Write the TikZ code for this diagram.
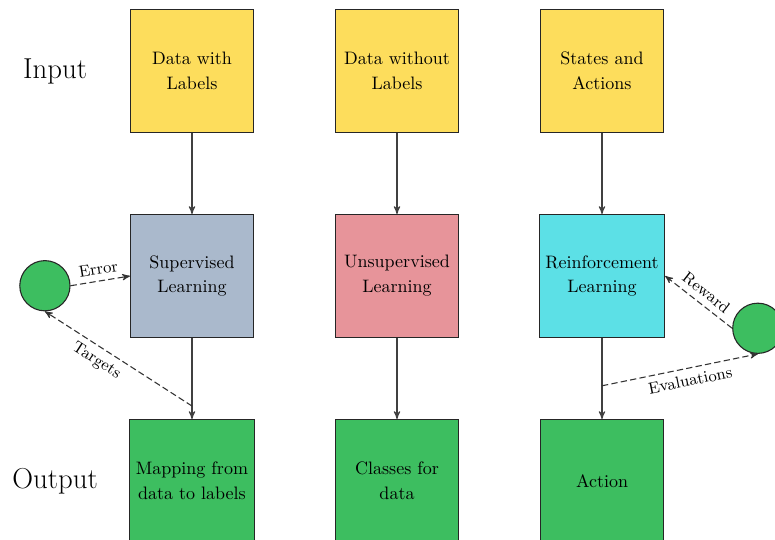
\documentclass[tikz,border=0pt]{standalone}
\usepackage{amsmath}
\usepackage{tikz}
\usetikzlibrary{arrows,calc}

\definecolor{inyellow}{RGB}{253,221,92}
\definecolor{supgray}{RGB}{170,185,204}
\definecolor{unsuppink}{RGB}{231,148,154}
\definecolor{rlcyan}{RGB}{92,224,230}
\definecolor{outgreen}{RGB}{61,190,96}

\begin{document}
\begin{tikzpicture}[>=stealth',auto,node distance=4cm,every node/.style={align=center},
    block/.style={draw=black!85,semithick,minimum size=2.4cm,font=\fontsize{10}{13.8}\selectfont},
    agent/.style={circle,draw=black!85,semithick,fill=outgreen,minimum size=0.98cm},
    flow/.style={->,semithick,color=black!75},
    feedback/.style={->,semithick,dash pattern=on 3.5pt off 1.8pt,color=black!80},
    lbl/.style={font=\small,sloped,text=black},
    side/.style={font=\fontsize{16}{19}\selectfont}]
          \clip (-3.746,1.385) rectangle (11.375,-9.132);

          % inputs
          \node[block,fill=inyellow] (A) {Data with\\Labels};
          \node[block,fill=inyellow] (B) [right of=A] {Data without\\Labels};
          \node[block,fill=inyellow] (C) [right of=B] {States and\\Actions};
          % learning types
          \node[block,fill=supgray] (D) [below of=A] {Supervised\\Learning};
          \node[block,fill=unsuppink] (E) [below of=B] {Unsupervised\\Learning};
          \node[block,fill=rlcyan] (F) [below of=C] {Reinforcement\\Learning};
          % outputs
          \node[block,fill=outgreen] (G) [below of=D] {Mapping from\\data to labels};
          \node[block,fill=outgreen] (H) [below of=E] {Classes for\\data};
          \node[block,fill=outgreen] (I) [below of=F] {Action};

          \node[side] (in) [left of=A,node distance=2.67cm] {Input};
          \node[side] (out) [left of=G,node distance=2.67cm] {Output};

          % feedback loops
          \node[agent] (S) at ($(D)+(-2.87,-0.19)$) {};
          \node[agent] (R) at ($(F)+(3.04,-1.02)$) {};
          \coordinate (t) at ($(D.south)!0.84!(G.north)$);
          \coordinate (v) at ($(F.south)!0.59!(I.north)$);

          \path[flow]
            (A) edge (D)
            (B) edge (E)
            (C) edge (F)
            (D) edge (G)
            (E) edge (H)
            (F) edge (I)
            ;
          \path[feedback]
            (S.east) edge node [lbl,above] {Error} (D.west)
            (t) edge node [lbl,below,pos=0.6] {Targets} (S.south)
            (R.west) edge node [lbl,above,pos=0.5] {Reward} (F.east)
            (v) edge node [lbl,below,pos=0.55] {Evaluations} (R.south)
            ;
\end{tikzpicture}
\end{document}
